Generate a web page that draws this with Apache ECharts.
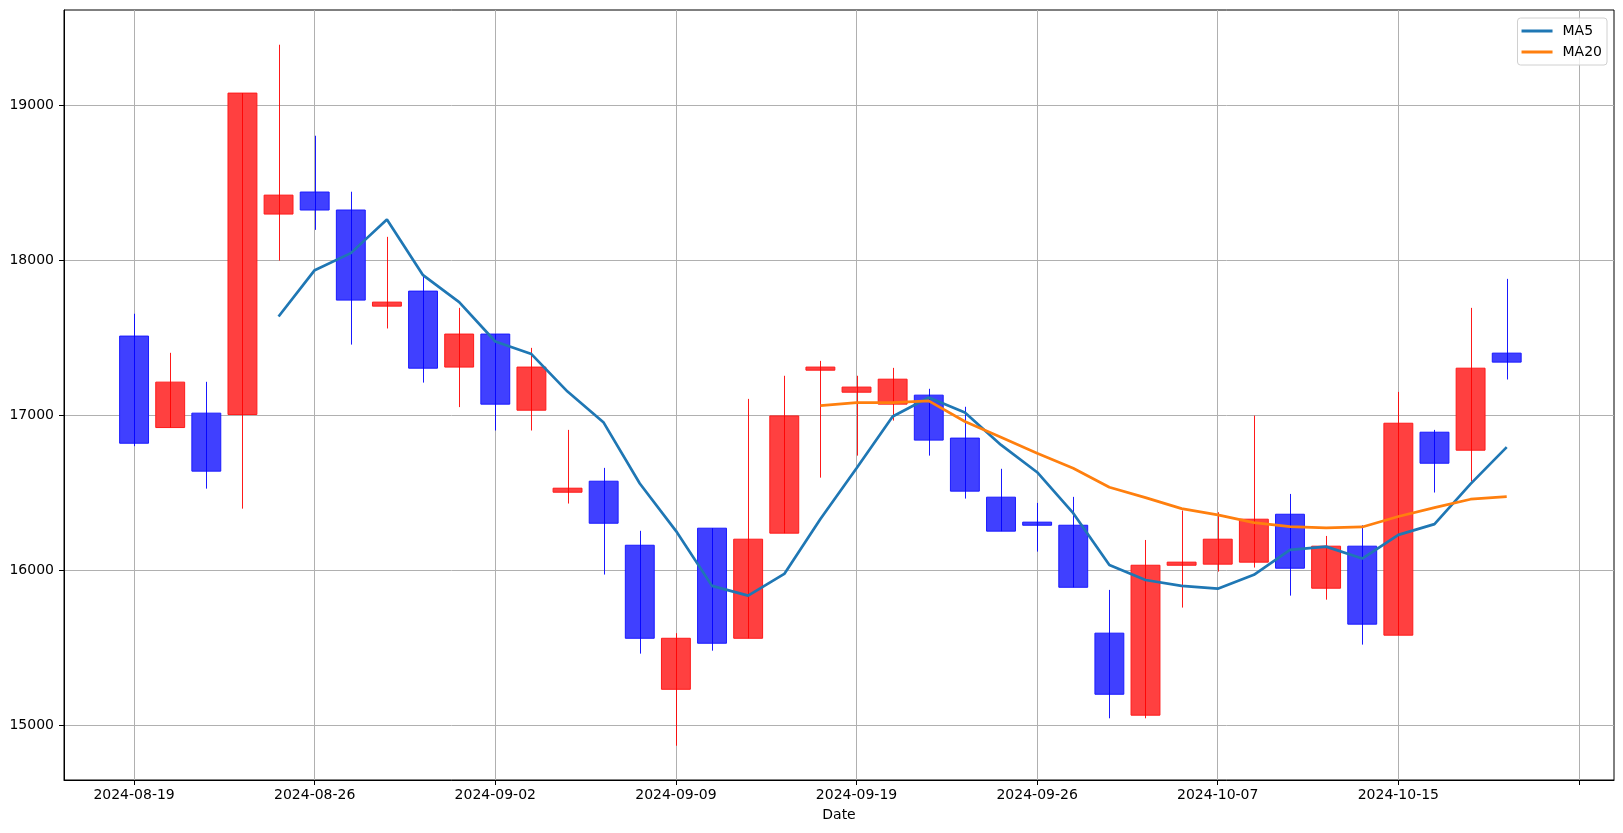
<!DOCTYPE html>
<html>
<head>
<meta charset="utf-8">
<script src="https://cdn.jsdelivr.net/npm/echarts@6.0.0/dist/echarts.min.js"></script>
<style>
  html, body { margin: 0; padding: 0; background: #fff; }
  #chart { width: 1623px; height: 833px; }
</style>
</head>
<body>
<div id="chart"></div>
<script>
const dates = ['2024-08-19','2024-08-20','2024-08-21','2024-08-22','2024-08-23','2024-08-26','2024-08-27','2024-08-28','2024-08-29','2024-08-30',
  '2024-09-02','2024-09-03','2024-09-04','2024-09-05','2024-09-06','2024-09-09','2024-09-10','2024-09-11','2024-09-12','2024-09-13',
  '2024-09-19','2024-09-20','2024-09-23','2024-09-24','2024-09-25','2024-09-26','2024-09-27','2024-09-30','2024-10-02','2024-10-04',
  '2024-10-07','2024-10-08','2024-10-10','2024-10-11','2024-10-14','2024-10-15','2024-10-16','2024-10-17','2024-10-18'];
const openP  = [17510,16920,17013,17004,18297,18439,18323,17703,17800,17310,17523,17032,16503,16574,16161,15232,16271,15561,16239,17290,17148,17071,17129,16852,16471,16310,16290,15594,15065,16032,16039,16052,16361,15884,16155,15581,16890,16774,17400];
const closeP = [16819,17213,16639,19077,18419,18323,17742,17729,17303,17523,17071,17310,16529,16303,15561,15561,15529,16200,16995,17310,17181,17232,16839,16510,16252,16290,15890,15200,16032,16052,16200,16329,16013,16155,15652,16948,16690,17303,17342];
const highP  = [17654,17402,17215,19077,19389,18802,18441,18150,17903,17692,17523,17434,16905,16660,16254,15594,16271,17105,17254,17350,17254,17305,17170,17054,16654,16434,16473,15873,16195,16385,16374,16997,16492,16221,16290,17150,16905,17692,17879];
const lowP   = [16800,16920,16526,16397,17997,18195,17455,17559,17210,17052,16901,16901,16430,15972,15462,14868,15481,15561,16239,16597,16739,16965,16739,16462,16252,16120,15890,15045,15045,15759,15991,16017,15836,15810,15520,15581,16501,16572,17230];
const ma5  = [null,null,null,null,17636,17935,18045,18262,17903,17729,17475,17394,17152,16952,16559,16254,15899,15836,15976,16330,16658,16991,17114,17017,16808,16632,16368,16034,15937,15899,15881,15970,16131,16152,16075,16228,16297,16557,16794];
const ma20 = [null,null,null,null,null,null,null,null,null,null,null,null,null,null,null,null,null,null,null,17062,17081,17081,17092,16959,16858,16755,16658,16535,16468,16397,16357,16307,16281,16273,16279,16346,16404,16458,16475];
const xTicks = [0,5,10,15,20,25,30,35,40];
const yTicks = [15000,16000,17000,18000,19000];

const FONT = 'DejaVu Sans';
const chart = echarts.init(document.getElementById('chart'), null, {renderer: 'canvas'});

const candleData = dates.map((d, i) => [i, openP[i], closeP[i], lowP[i], highP[i]]);

function renderCandle(params, api) {
  const i = api.value(0), o = api.value(1), c = api.value(2), l = api.value(3), h = api.value(4);
  const pO = api.coord([i, o]), pC = api.coord([i, c]);
  const pL = api.coord([i, l]), pH = api.coord([i, h]);
  const w = api.size([0.8, 0])[0];
  const up = c >= o;
  const fill = up ? '#ff4040' : '#4040ff';
  const edge = up ? '#ff1a1a' : '#1a1aff';
  const wick = up ? 'rgba(255,0,0,0.9)' : 'rgba(0,0,255,0.9)';
  const top = Math.min(pO[1], pC[1]);
  const bot = Math.max(pO[1], pC[1]);
  const cx = Math.round(pO[0]) + 0.5;
  return {
    type: 'group',
    children: [
      {type: 'rect', shape: {x: pO[0] - w / 2, y: top, width: w, height: Math.max(bot - top, 1)},
       style: {fill: fill, stroke: edge, lineWidth: 1}},
      {type: 'line', shape: {x1: cx, y1: pH[1], x2: cx, y2: pL[1]},
       style: {stroke: wick, lineWidth: 1}}
    ]
  };
}

const option = {
  animation: false,
  backgroundColor: '#ffffff',
  textStyle: {fontFamily: FONT},
  grid: {left: 64, top: 10, width: 1550, height: 770, show: true, borderColor: '#000', borderWidth: 1, backgroundColor: 'transparent'},
  legend: {
    data: ['MA5', 'MA20'],
    orient: 'vertical',
    right: 16, top: 18,
    icon: 'rect', itemWidth: 31, itemHeight: 3, itemGap: 7,
    padding: [6, 5, 6, 4],
    backgroundColor: 'rgba(255,255,255,0.8)',
    borderColor: '#d0d0d0', borderWidth: 1, borderRadius: 3,
    textStyle: {fontFamily: FONT, fontSize: 14, color: '#000', padding: [0, 0, 0, 5]}
  },
  xAxis: {
    type: 'value',
    min: -1.94, max: 40.97,
    name: 'Date', nameLocation: 'middle', nameGap: 28,
    nameTextStyle: {fontFamily: FONT, fontSize: 14, color: '#000'},
    axisLine: {show: true, onZero: false, lineStyle: {color: '#000', width: 1}},
    axisTick: {show: true, length: 5, lineStyle: {color: '#000'}, customValues: xTicks},
    axisLabel: {show: true, customValues: xTicks, margin: 8, fontFamily: FONT, fontSize: 14, color: '#000',
      formatter: v => dates[Math.round(v)] || ''},
    splitLine: {show: true, lineStyle: {color: '#b0b0b0', width: 1}}
  },
  yAxis: {
    type: 'value',
    min: 14647, max: 19613,
    axisLine: {show: true, onZero: false, lineStyle: {color: '#000', width: 1}},
    axisTick: {show: true, length: 5, lineStyle: {color: '#000'}, customValues: yTicks},
    axisLabel: {show: true, customValues: yTicks, margin: 10, fontFamily: FONT, fontSize: 14, color: '#000',
      formatter: v => String(v)},
    splitLine: {show: true, lineStyle: {color: '#b0b0b0', width: 1}}
  },
  series: [
    {type: 'custom', name: 'candles', renderItem: renderCandle, data: candleData,
     encode: {x: 0, y: [1, 2, 3, 4]}, z: 2, clip: true},
    {type: 'line', name: 'MA5', data: ma5.map((v, i) => [i, v]), symbol: 'none', showSymbol: false,
     connectNulls: false, color: '#1f77b4', lineStyle: {color: '#1f77b4', width: 2.7}, z: 3},
    {type: 'line', name: 'MA20', data: ma20.map((v, i) => [i, v]), symbol: 'none', showSymbol: false,
     connectNulls: false, color: '#ff7f0e', lineStyle: {color: '#ff7f0e', width: 2.7}, z: 4}
  ]
};
chart.setOption(option);
</script>
</body>
</html>
